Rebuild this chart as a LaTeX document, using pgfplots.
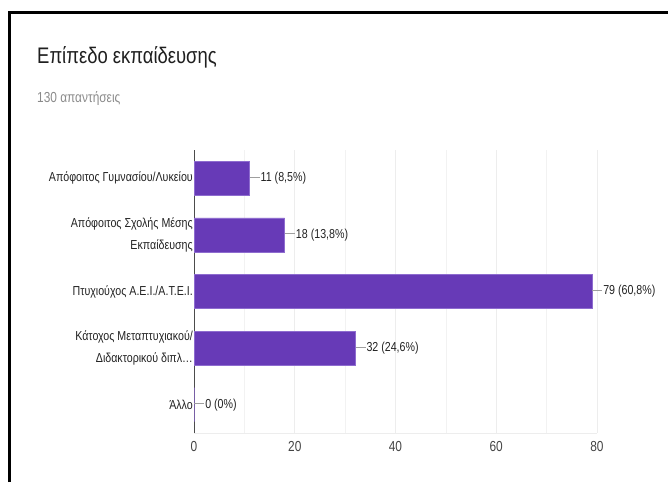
\documentclass[border=0pt]{standalone}
\usepackage{pgfplots}
\pgfplotsset{compat=1.18}
\usepackage{fontspec}
\setmainfont{Liberation Sans}[FakeStretch=0.82]
\definecolor{barpurple}{HTML}{673AB7}
\definecolor{baredge}{HTML}{8E6CCF}
\definecolor{gridgray}{HTML}{EDEDED}
\definecolor{txtdark}{HTML}{222222}
\definecolor{ticktxt}{HTML}{444444}
\definecolor{subgray}{HTML}{8A8A8A}
\definecolor{leader}{HTML}{9E9E9E}
\begin{document}
\begin{tikzpicture}[x=1pt,y=1pt]
\useasboundingbox (0,0) rectangle (668,482);
% frame
\draw[line width=2.6pt] (9.5,0) -- (9.5,469.5) -- (668,469.5);
% titles
\node[anchor=base west, inner sep=0pt, text=black!88,
      font=\fontsize{22.5}{26}\selectfont] at (37,418) {Επίπεδο εκπαίδευσης};
\node[anchor=base west, inner sep=0pt, text=subgray,
      font=\fontsize{14.5}{17}\selectfont] at (37,379.5) {130 απαντήσεις};
\begin{axis}[
    at={(194pt,49pt)}, anchor=south west,
    width=403pt, height=283pt, scale only axis,
    xbar, bar width=34pt,
    xmin=0, xmax=80,
    ymin=-0.5, ymax=4.5,
    y dir=reverse,
    axis x line*=bottom, axis y line*=left,
    x axis line style={draw=gridgray, line width=1pt, -},
    y axis line style={draw=black!70, line width=0.7pt, -},
    xtick={0,20,40,60,80},
    minor xtick={10,30,50,70},
    xmajorgrids, xminorgrids,
    major grid style={draw=gridgray, line width=0.8pt},
    minor grid style={draw=gridgray!70, line width=0.6pt},
    major tick length=0pt, minor tick length=0pt,
    ytick={0,1,2,3,4},
    yticklabels={{Απόφοιτος Γυμνασίου/Λυκείου},
                 {Απόφοιτος Σχολής Μέσης\\Εκπαίδευσης},
                 {Πτυχιούχος Α.Ε.Ι./Α.Τ.Ε.Ι.},
                 {Κάτοχος Μεταπτυχιακού/\\Διδακτορικού διπλ…},
                 {Άλλο}},
    yticklabel style={align=right, text=txtdark, inner sep=1pt,
                      font=\fontsize{13}{22}\selectfont},
    xticklabel style={text=ticktxt, yshift=-5pt,
                      font=\fontsize{14.5}{17}\selectfont},
    /pgf/number format/assume math mode=true,
    point meta=explicit symbolic,
    nodes near coords={\textcolor{leader}{\rule[0.32em]{10pt}{0.8pt}}\hspace{1pt}\pgfplotspointmeta},
    nodes near coords style={anchor=west, inner sep=0pt, text=txtdark,
                             font=\fontsize{13}{15}\selectfont},
]
\addplot[fill=barpurple, draw=baredge, line width=0.6pt]
    coordinates {
    (11,0) [11 (8,5\%)]
    (18,1) [18 (13,8\%)]
    (79,2) [79 (60,8\%)]
    (32,3) [32 (24,6\%)]
    (0,4)  [0 (0\%)]
    };
\end{axis}
\end{tikzpicture}
\end{document}
